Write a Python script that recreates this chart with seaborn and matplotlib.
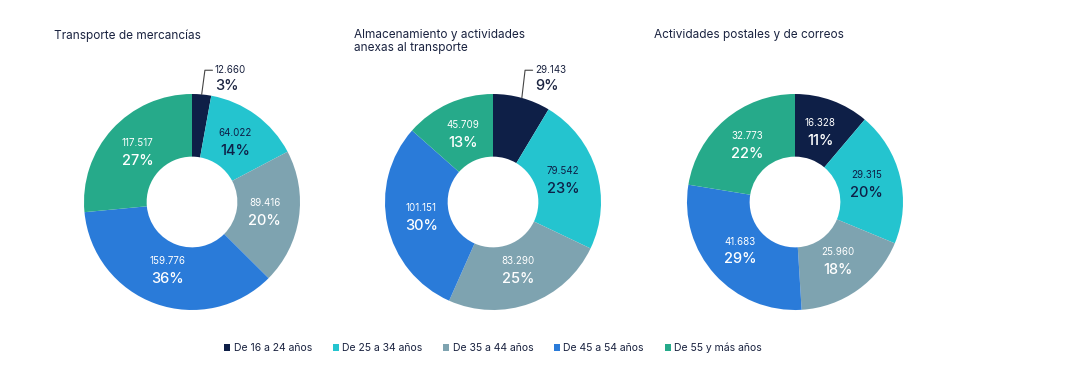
import matplotlib
matplotlib.use("Agg")
import matplotlib.pyplot as plt
import seaborn as sns
import numpy as np
from matplotlib.patches import Patch

sns.set_theme(style="white")
plt.rcParams['font.family'] = ['Inter', 'DejaVu Sans']

# ---- data ----
categories = ["De 16 a 24 años", "De 25 a 34 años", "De 35 a 44 años",
              "De 45 a 54 años", "De 55 y más años"]
titles = ["Transporte de mercancías",
          "Almacenamiento y actividades\nanexas al transporte",
          "Actividades postales y de correos"]
transporte = [12660, 64022, 89416, 159776, 117517]
almacenamiento = [29143, 79542, 83290, 101151, 45709]
postales = [16328, 29315, 25960, 41683, 32773]
series = [transporte, almacenamiento, postales]

colors = sns.color_palette(["#0e1f47", "#24c4cf", "#7ea3b0", "#2a7bd9", "#26aa8a"])
text_on = ["white", "#0e1f47", "white", "white", "white"]
dark = "#1a2340"

W, H = 1082, 388
fig = plt.figure(figsize=(W / 100, H / 100), dpi=100)

centers_x = [192, 493, 795]
center_y = 202
R = 108
half = 1.15
size = 2 * half * R

def fmt(v):
    return f"{v:,}".replace(",", ".")

for i, (vals, title) in enumerate(zip(series, titles)):
    cx = centers_x[i]
    ax = fig.add_axes([(cx - size / 2) / W, (H - center_y - size / 2) / H, size / W, size / H])
    wedges, _ = ax.pie(vals, colors=colors, startangle=90, counterclock=False,
                       radius=1.0, wedgeprops=dict(width=0.58, linewidth=0))
    ax.set_xlim(-half, half)
    ax.set_ylim(-half, half)
    ax.set_aspect('equal')
    ax.axis('off')
    total = sum(vals)
    for j, (w, v) in enumerate(zip(wedges, vals)):
        pct = v / total * 100
        ang = np.deg2rad((w.theta1 + w.theta2) / 2)
        if pct < 10:
            xe, ye = np.cos(ang), np.sin(ang)
            yl = 1.22
            ax.plot([xe, xe + 0.03, xe + 0.1], [ye, yl, yl], color="#444444", lw=0.8,
                    clip_on=False)
            ax.text(xe + 0.12, yl, fmt(v), ha='left', va='center', fontsize=7,
                    color=dark, clip_on=False)
            ax.text(xe + 0.12, 1.07, f"{pct:.0f}%", ha='left', va='center', fontsize=10.5,
                    fontweight='medium', color=dark, clip_on=False)
        else:
            r = 0.68
            x, y = r * np.cos(ang), r * np.sin(ang)
            ax.text(x, y + 0.09, fmt(v), ha='center', va='center', fontsize=7,
                    color=text_on[j])
            ax.text(x, y - 0.075, f"{pct:.0f}%", ha='center', va='center', fontsize=10.5,
                    fontweight='medium', color=text_on[j])

title_x = [54, 354, 654]
for tx, t in zip(title_x, titles):
    fig.text(tx / W, 1 - 29 / H, t, ha='left', va='top', fontsize=8.5, color=dark,
             linespacing=1.15)

handles = [Patch(facecolor=c, edgecolor='none') for c in colors]
leg = fig.legend(handles, categories, loc='center', bbox_to_anchor=(493 / W, 1 - 348 / H),
                 ncol=5, frameon=False, fontsize=7.5, handlelength=0.6, handleheight=0.6,
                 handletextpad=0.3, columnspacing=2.0, labelcolor=dark)

fig.savefig("out.png", dpi=100, facecolor="white")
